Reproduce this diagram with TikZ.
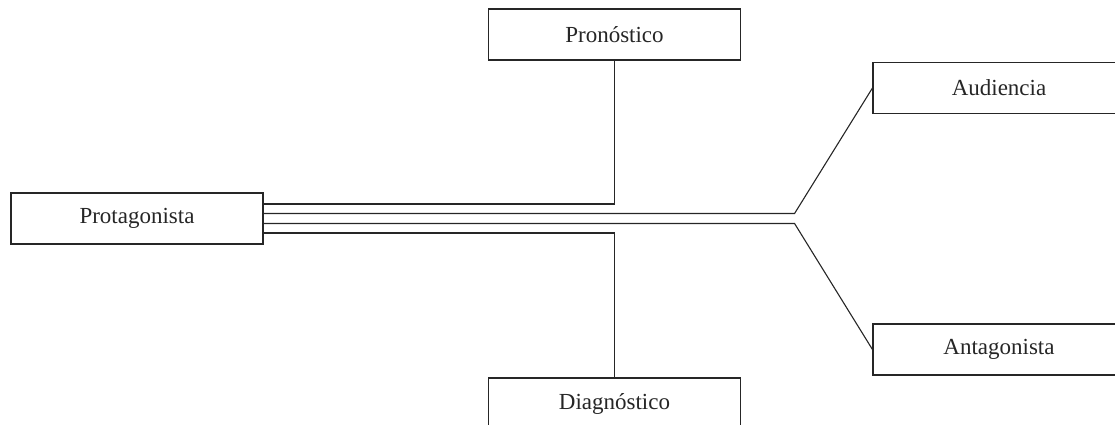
\documentclass[tikz,border=0pt]{standalone}
\usepackage{fontspec}
\setmainfont{Liberation Serif}
\usepackage{tikz}
\tikzstyle{rolebox} = [draw=black!85, fill=white, line width=1.1pt,
    rectangle, minimum width=252pt, minimum height=51pt, inner sep=0pt,
    text=black!85, font=\fontsize{23}{27}\selectfont]
\tikzstyle{link} = [draw=black!85, line width=1.1pt]

\begin{document}
\begin{tikzpicture}[x=1pt, y=-1pt]
\clip (0,0) rectangle (1115,425);
\node [rolebox] (prot) at (137,218.5) {Protagonista};
\node [rolebox] (pron) at (614.5,34.5) {Pronóstico};
\node [rolebox] (diag) at (614.5,403.5) {Diagnóstico};
\node [rolebox] (aud) at (999,88) {Audiencia};
\node [rolebox] (ant) at (999,349.5) {Antagonista};
% four strands leaving the protagonist
\draw [link] ([yshift=14.5pt]prot.east) -| (pron.south);
\draw [link] ([yshift=5pt]prot.east) -- ++(531,0) -- (aud.west);
\draw [link] ([yshift=-5pt]prot.east) -- ++(531,0) -- (ant.west);
\draw [link] ([yshift=-14.5pt]prot.east) -| (diag.north);
\end{tikzpicture}
\end{document}
